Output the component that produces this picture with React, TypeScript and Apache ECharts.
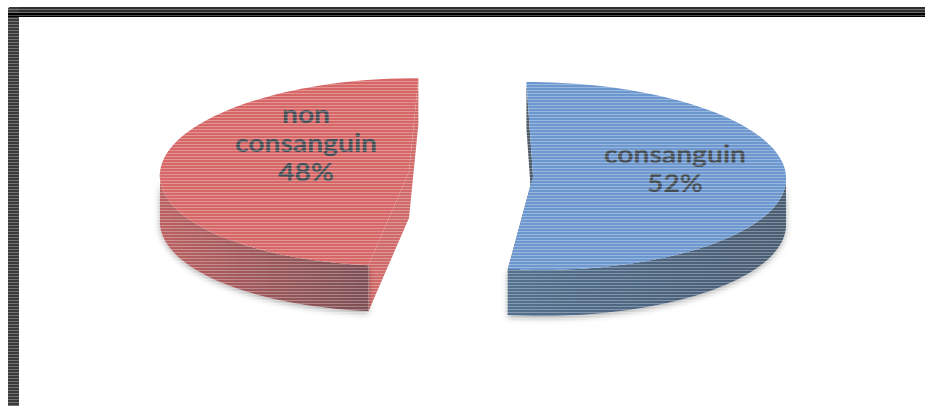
import React, { useEffect, useRef } from "react";
import * as echarts from "echarts";

const categories = ["consanguin", "non\nconsanguin"];
const shares = [52, 48];

const topColors = ["#6d97cf", "#d66766"];
const wallColors = [
  ["#52708f", "#4a5c72"],
  ["#bb6060", "#7d4f55"],
];
const cutColors = ["#4b5866", "#d06a69"];

const W = 925;
const H = 406;
const DEPTH = 46;
// Each wedge is pulled away from the pie centre, and drawn with a small skew for the tilted view.
const wedgeLayout = [
  { cx: 533, cy: 176, rx: 253, ry: 94, skew: 0.07 },
  { cx: 409, cy: 172, rx: 249, ry: 94, skew: -0.1 },
];
const labelAnchors = [
  [675, 168],
  [306, 143],
];

type Pt = [number, number];

function renderWedge(params: any, api: any) {
  const i = params.dataIndex;
  const share = api.value(0);
  const total = shares.reduce((a, b) => a + b, 0);
  const before = shares.slice(0, i).reduce((a, b) => a + b, 0);
  const from = (before / total) * 360;
  const to = ((before + share) / total) * 360;
  const { cx, cy, rx, ry, skew } = wedgeLayout[i];

  const rim = (deg: number, drop = 0): Pt => {
    const t = (deg * Math.PI) / 180;
    const y = cy - ry * Math.cos(t);
    return [cx + rx * Math.sin(t) + skew * (y - cy), y + drop];
  };
  const arc = (a: number, b: number, drop = 0): Pt[] => {
    const n = Math.max(2, Math.ceil(Math.abs(b - a) / 2));
    const pts: Pt[] = [];
    for (let k = 0; k <= n; k++) pts.push(rim(a + ((b - a) * k) / n, drop));
    return pts;
  };

  const apex: Pt = [cx, cy];
  const apexLow: Pt = [cx, cy + DEPTH];
  const children: any[] = [];

  // Cut faces on either side of the wedge, lowest in the stack.
  children.push({
    type: "polygon",
    shape: { points: [apex, apexLow, rim(from, DEPTH), rim(from)] },
    style: { fill: cutColors[i] },
  });
  children.push({
    type: "polygon",
    shape: { points: [apex, apexLow, rim(to, DEPTH), rim(to)] },
    style: { fill: cutColors[i] },
  });

  // Outer wall: only the front half of the rim can be seen.
  const wallFrom = Math.max(from, 90);
  const wallTo = Math.min(to, 270);
  if (wallTo > wallFrom) {
    const [left, right] = wallColors[i];
    children.push({
      type: "polygon",
      shape: { points: [...arc(wallFrom, wallTo), ...arc(wallTo, wallFrom, DEPTH)] },
      style: {
        fill: new echarts.graphic.LinearGradient(0, 0, 1, 0, [
          { offset: 0, color: left },
          { offset: 1, color: right },
        ]),
        shadowColor: "rgba(0,0,0,0.35)",
        shadowBlur: 6,
        shadowOffsetY: 2,
      },
    });
  }

  children.push({
    type: "polygon",
    shape: { points: [apex, ...arc(from, to)] },
    style: { fill: topColors[i] },
  });

  const [lx, ly] = labelAnchors[i];
  children.push({
    type: "text",
    x: lx,
    y: ly,
    scaleX: 1.13,
    z2: 5,
    style: {
      text: `${categories[i]}\n${share}%`,
      fill: "#434d55",
      font: "700 25px Lato",
      lineHeight: 29,
      align: "center",
      verticalAlign: "middle",
    },
  });

  return { type: "group", children };
}

// Horizontal scan lines laid over the whole page.
const scanLines = Array.from({ length: Math.ceil(H / 3) }, (_, k) => ({
  type: "rect",
  silent: true,
  z: 50,
  shape: { x: 0, y: k * 3, width: W, height: 1 },
  style: { fill: "rgba(255,255,255,0.3)" },
}));

export default function App() {
  const ref = useRef<HTMLDivElement>(null);
  useEffect(() => {
    const chart = echarts.init(ref.current!, undefined, { renderer: "svg" });
    chart.setOption({
      animation: false,
      backgroundColor: "#ffffff",
      series: [
        {
          type: "custom",
          coordinateSystem: "none",
          renderItem: renderWedge,
          data: shares.map((v, i) => ({ name: categories[i], value: [v] })),
          clip: false,
        },
      ],
      graphic: [
        {
          type: "rect",
          z: 40,
          shape: { x: 8, y: 7, width: W - 8, height: 10, r: [3, 0, 0, 0] },
          style: { fill: "#2e2e2e" },
        },
        {
          type: "rect",
          z: 40,
          shape: { x: 8, y: 7, width: 11, height: H - 7, r: [3, 0, 0, 0] },
          style: { fill: "#3a3a3a" },
        },
        {
          type: "rect",
          z: 41,
          shape: { x: 8, y: 13, width: W - 8, height: 4 },
          style: { fill: "#000000" },
        },
        ...scanLines,
      ],
    });
    return () => chart.dispose();
  }, []);
  return (
    <div
      ref={ref}
      style={{ width: W, height: H, position: "fixed", left: 0, top: 0 }}
    />
  );
}
